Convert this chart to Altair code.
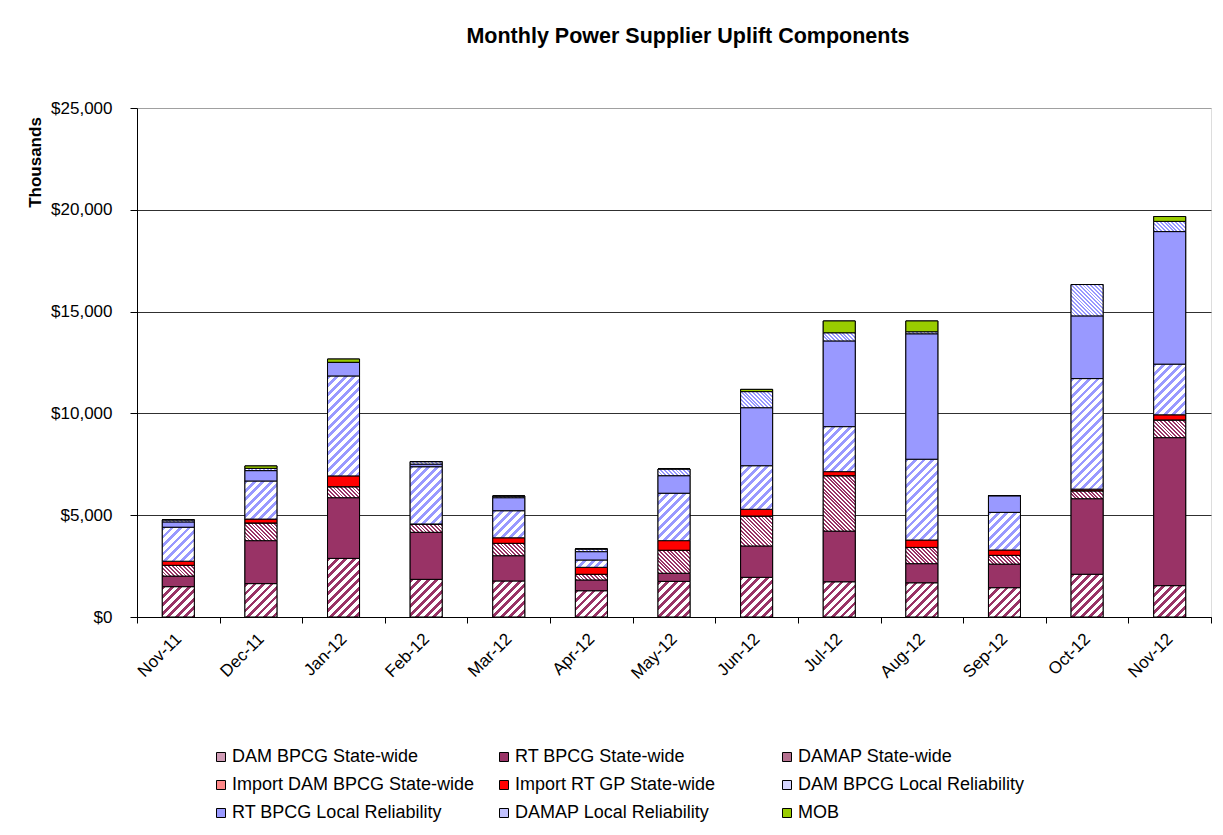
import math
import altair as alt

# ---------------- data (values in $ thousands) ----------------
months = ["Nov-11", "Dec-11", "Jan-12", "Feb-12", "Mar-12", "Apr-12", "May-12",
          "Jun-12", "Jul-12", "Aug-12", "Sep-12", "Oct-12", "Nov-12"]

series = ["DAM BPCG State-wide", "RT BPCG State-wide", "DAMAP State-wide",
          "Import DAM BPCG State-wide", "Import RT GP State-wide",
          "DAM BPCG Local Reliability", "RT BPCG Local Reliability",
          "DAMAP Local Reliability", "MOB"]

dam_bpcg_sw   = [1490, 1640, 2880, 1850, 1770, 1290, 1750, 1950, 1730, 1680, 1440, 2100, 1540]
rt_bpcg_sw    = [520, 2110, 2980, 2310, 1240, 530, 400, 1540, 2490, 940, 1160, 3710, 7270]
damap_sw      = [530, 870, 540, 410, 610, 280, 1130, 1470, 2720, 800, 430, 390, 870]
import_dam_sw = [0, 0, 0, 0, 0, 0, 0, 0, 0, 0, 0, 0, 0]
import_rt_sw  = [200, 190, 530, 0, 270, 340, 470, 330, 200, 360, 260, 80, 250]
dam_bpcg_lr   = [1670, 1870, 4910, 2810, 1330, 360, 2330, 2140, 2210, 3970, 1850, 5430, 2490]
rt_bpcg_lr    = [260, 510, 670, 130, 640, 410, 860, 2850, 4210, 6160, 820, 3080, 6510]
damap_lr      = [100, 110, 0, 120, 80, 130, 330, 790, 400, 100, 0, 1540, 500]
mob           = [0, 120, 160, 0, 0, 0, 0, 110, 580, 530, 0, 0, 240]

values_by_series = [dam_bpcg_sw, rt_bpcg_sw, damap_sw, import_dam_sw, import_rt_sw,
                    dam_bpcg_lr, rt_bpcg_lr, damap_lr, mob]

# legend / base colours (same order as series)
legend_colors = ["#d09cb6", "#993366", "#b5708f", "#ff8888", "#ff0000",
                 "#d6d6ff", "#9999ff", "#c2c2ff", "#99cc00"]

# legend entry order (legend fills column by column, 3 rows)
legend_order = [0, 3, 6, 1, 4, 7, 2, 5, 8]

# fill style per series: (kind, colour)  kind: solid | fwd (/) | back (\)
fill_styles = [("fwd", "#993366"), ("solid", "#993366"), ("back", "#993366"),
               ("fwd", "#ff0000"), ("solid", "#ff0000"), ("fwd", "#9999ff"),
               ("solid", "#9999ff"), ("back", "#9999ff"), ("solid", "#99cc00")]

# ---------------- layout ----------------
PLOT_W, PLOT_H = 1074, 509
Y_MAX = 25000
BAR_W = 32


def hatch(kind, color, h_px, w_px=BAR_W):
    """Striped linear gradient imitating an Excel hatch pattern."""
    if kind == "fwd":
        period, frac = 8.5, 0.45
    else:
        period, frac = 3.8, 0.5
    n = max(1, math.ceil((w_px + h_px) / period))
    L = n * period
    a = L / (w_px * w_px + h_px * h_px)
    if kind == "fwd":
        x1, y1, x2, y2 = 0, 0, a * w_px, a * h_px
    else:
        x1, y1, x2, y2 = 0, 1, a * w_px, 1 - a * h_px
    stops = []
    for k in range(n):
        o0, o1, o2 = k / n, (k + frac) / n, (k + 1) / n
        stops += [{"offset": o0, "color": color}, {"offset": o1, "color": color},
                  {"offset": o1, "color": "#ffffff"}, {"offset": o2, "color": "#ffffff"}]
    return {"gradient": "linear", "x1": x1, "y1": y1, "x2": x2, "y2": y2, "stops": stops}


rows = []
for si, (name, vals) in enumerate(zip(series, values_by_series)):
    kind, col = fill_styles[si]
    for mi, m in enumerate(months):
        v = vals[mi]
        if kind == "solid":
            f = col
        else:
            f = hatch(kind, col, v / Y_MAX * PLOT_H)
        rows.append({"month": m, "series": name, "ord": si, "val": v, "fillv": f})

data = alt.Data(values=rows)

FONT = "Liberation Sans"

legend_domain = [series[i] for i in legend_order]
legend_range = [legend_colors[i] for i in legend_order]

base = alt.Chart(data).transform_stack(
    stack="val", groupby=["month"], as_=["v0", "v1"],
    sort=[alt.SortField("ord", order="ascending")]
)

x_enc = alt.X("month:N", sort=months,
              scale=alt.Scale(paddingInner=0, paddingOuter=0),
              axis=alt.Axis(title=None, labelAngle=-45, labelAlign="right",
                            labelBaseline="middle", labelFont=FONT, labelFontSize=17,
                            labelColor="#000000", labelPadding=13, tickBand="extent",
                            tickSize=6, tickColor="#000000", domainColor="#000000",
                            grid=False))

y_enc = alt.Y("v0:Q", scale=alt.Scale(domain=[0, Y_MAX], nice=False),
              axis=alt.Axis(title="Thousands", values=[0, 5000, 10000, 15000, 20000, 25000],
                            format="$,.0f", labelFont=FONT, labelFontSize=17,
                            labelColor="#000000", labelPadding=18, tickSize=7,
                            tickColor="#000000", domainColor="#000000",
                            grid=True,
                            gridColor={"condition": {"test": "datum.value === 25000", "value": "#a0a0a0"},
                                       "value": "#303030"},
                            titleFont=FONT, titleFontSize=17, titleFontWeight="bold",
                            titleColor="#000000", titleAngle=270, titleAlign="center",
                            titleBaseline="middle", titleX=-102, titleY=54))

legend_layer = base.mark_bar(size=BAR_W, stroke="#000000", strokeWidth=1).encode(
    x=x_enc,
    y=y_enc,
    y2="v1:Q",
    color=alt.Color("series:N",
                    scale=alt.Scale(domain=legend_domain, range=legend_range),
                    legend=alt.Legend(title=None, orient="none", legendX=75, legendY=640,
                                      columns=3, gridAlign="all", columnPadding=20,
                                      rowPadding=10, symbolType="square", symbolSize=81,
                                      symbolStrokeColor="#000000", symbolStrokeWidth=1,
                                      labelFont=FONT, labelFontSize=18, labelColor="#000000",
                                      labelOffset=2, labelLimit=400, padding=0)),
    order=alt.Order("ord:Q"),
)

hatch_layer = base.mark_bar(size=BAR_W, stroke="#000000", strokeWidth=1).encode(
    x=alt.X("month:N", sort=months),
    y=alt.Y("v0:Q"),
    y2="v1:Q",
    fill=alt.Fill("fillv:N", scale=None),
)

chart = alt.layer(legend_layer, hatch_layer).properties(
    width=PLOT_W,
    height=PLOT_H,
    title=alt.TitleParams("Monthly Power Supplier Uplift Components", font=FONT,
                          fontSize=21.5, fontWeight="bold", color="#000000",
                          anchor="middle", frame="group", dx=14, offset=52),
    autosize=alt.AutoSizeParams(type="none"),
    padding={"left": 129, "top": 100, "right": 4, "bottom": 205},
).configure_view(stroke="#a0a0a0", strokeWidth=1).configure(background="#ffffff")

chart.save("out.html", embed_options={"renderer": "svg", "actions": False})
